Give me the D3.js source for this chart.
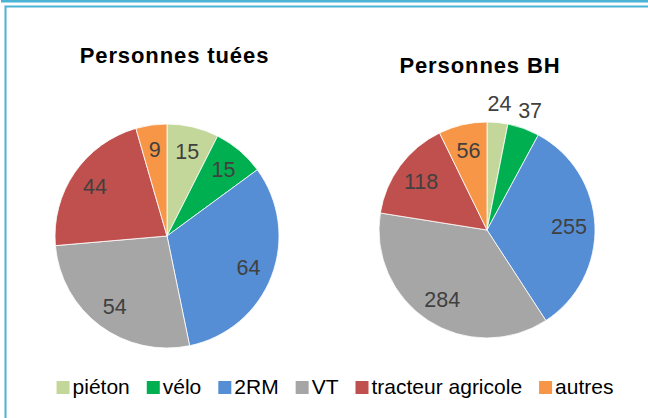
<!DOCTYPE html>
<meta charset="utf-8">
<script src="https://d3js.org/d3.v7.min.js"></script>
<style>
    body { margin: 0; background: #fff; }
    text { font-family: "Liberation Sans", Arial, sans-serif; }
</style>
<body>
</body>
<script>
    // data
    var categories = ["piéton", "vélo", "2RM", "VT", "tracteur agricole", "autres"];
    var colors = ["#c4d79b", "#00b050", "#558ed5", "#a6a6a6", "#c0504d", "#f79646"];
    var tuees = [15, 15, 64, 54, 44, 9];
    var bh = [24, 37, 255, 284, 118, 56];

    var width = 648, height = 418;

    var svg = d3.select("body")
        .append("svg")
            .attr("width", width)
            .attr("height", height);

    // frame (double line, like the source document)
    svg.append("rect")
        .attr("x", 1).attr("y", 0)
        .attr("width", width).attr("height", 2.5)
        .attr("fill", "#4bb3d3");
    svg.append("rect")
        .attr("x", 5.5).attr("y", 6.5)
        .attr("width", width).attr("height", height)
        .attr("fill", "none")
        .attr("stroke", "#4bb3d3")
        .attr("stroke-width", 2);

    var pies = [
        {title: "Personnes tuées", values: tuees, cx: 167, cy: 236, r: 112,
         tx: 174.5, ty: 62.5, labelK: 0.78, outside: []},
        {title: "Personnes BH", values: bh, cx: 487, cy: 230, r: 108,
         tx: 480, ty: 72.5, labelK: 0.76, outside: ["piéton", "vélo"]}
    ];

    var pie = d3.pie().sort(null).value(function(d) { return d.value; });

    pies.forEach(function(p) {
        var data = categories.map(function(c, i) {
            return {cat: c, value: p.values[i], color: colors[i]};
        });
        var arcs = pie(data);
        var arc = d3.arc().innerRadius(0).outerRadius(p.r);

        var g = svg.append("g")
            .attr("transform", "translate(" + p.cx + "," + p.cy + ")");

        g.selectAll("path")
            .data(arcs)
            .enter()
            .append("path")
                .attr("d", arc)
                .attr("fill", function(d) { return d.data.color; })
                .attr("stroke", "#fff")
                .attr("stroke-width", 0.8);

        g.selectAll("text.lbl")
            .data(arcs)
            .enter()
            .append("text")
                .attr("class", "lbl")
                .attr("transform", function(d) {
                    var k = p.outside.indexOf(d.data.cat) >= 0 ? 1.18 : p.labelK;
                    var a = d3.arc().innerRadius(p.r * k).outerRadius(p.r * k);
                    return "translate(" + a.centroid(d) + ")";
                })
                .attr("text-anchor", "middle")
                .attr("dy", "0.36em")
                .attr("font-size", "21.5px")
                .attr("fill", "#404040")
                .text(function(d) { return d.data.value; });

        svg.append("text")
            .attr("x", p.tx)
            .attr("y", p.ty)
            .attr("text-anchor", "middle")
            .attr("font-size", "22px")
            .attr("font-weight", "bold")
            .attr("letter-spacing", "0.9px")
            .attr("fill", "#000")
            .text(p.title);
    });

    // legend
    var legend = svg.append("g");
    var x = 0;
    categories.forEach(function(c, i) {
        var item = legend.append("g").attr("transform", "translate(" + x + ",0)");
        item.append("rect")
            .attr("x", 0).attr("y", -13)
            .attr("width", 13).attr("height", 13)
            .attr("fill", colors[i]);
        var t = item.append("text")
            .attr("x", 16).attr("y", 0)
            .attr("font-size", "21px")
            .attr("fill", "#000")
            .text(c);
        x += 16 + t.node().getComputedTextLength() + 17;
    });
    var legendWidth = x - 17;
    legend.attr("transform", "translate(" + (335 - legendWidth / 2) + ",394)");
</script>
